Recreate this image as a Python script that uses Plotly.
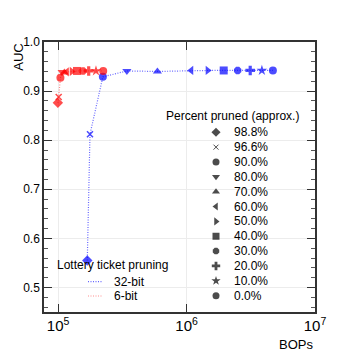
import plotly.graph_objects as go

pruned_labels = ["98.8%", "96.6%", "90.0%", "80.0%", "70.0%", "60.0%",
                 "50.0%", "40.0%", "30.0%", "20.0%", "10.0%", "0.0%"]
symbols = ["diamond", "x-thin", "circle", "triangle-down", "triangle-up",
           "triangle-left", "triangle-right", "square", "octagon", "cross",
           "star", "circle"]

bops_32 = [1.687e5, 1.77e5, 2.23e5, 3.43e5, 5.93e5, 1.087e6, 1.46e6,
           1.946e6, 2.50e6, 3.13e6, 3.86e6, 4.70e6]
auc_32 = [0.555, 0.812, 0.929, 0.941, 0.940, 0.942, 0.942, 0.942,
          0.942, 0.942, 0.942, 0.942]

bops_6 = [9.95e4, 1.01e5, 1.042e5, 1.074e5, 1.119e5, 1.168e5, 1.276e5,
          1.403e5, 1.562e5, 1.730e5, 1.971e5, 2.244e5]
auc_6 = [0.876, 0.888, 0.927, 0.939, 0.938, 0.939, 0.940, 0.941,
         0.941, 0.941, 0.941, 0.941]

series_names = ["32-bit", "6-bit"]

FONT = "Liberation Sans, Arial, Helvetica, sans-serif"
L, R, T, B = 44, 315, 42, 312
BLUE_LINE = "rgba(0,0,255,0.6)"
RED_LINE = "rgba(255,0,0,0.45)"
DASH = "1px,1.5px"

fig = go.Figure()


def sym_line(s):
    return 1.5 if s == "x-thin" else 0


# data series
for bops, auc, mc, lc in [(bops_32, auc_32, "#0000ff", BLUE_LINE),
                          (bops_6, auc_6, "#ff0000", RED_LINE)]:
    fig.add_trace(go.Scatter(x=bops, y=auc, mode="lines",
                             line=dict(color=lc, width=1.2, dash=DASH),
                             showlegend=False, hoverinfo="skip"))
    fig.add_trace(go.Scatter(
        x=bops, y=auc, mode="markers", showlegend=False,
        marker=dict(symbol=symbols, size=[8 if s != "x-thin" else 6 for s in symbols],
                    color=mc,
                    line=dict(color=mc, width=[sym_line(s) for s in symbols]))))

# custom legend (layout in pixel coordinates on a hidden overlay axis)
leg_x, leg_y0, leg_dy = 216, 132.3, 14.85
ys = [leg_y0 + i * leg_dy for i in range(len(pruned_labels))]
fig.add_trace(go.Scatter(
    x=[leg_x] * len(ys), y=ys, mode="markers", xaxis="x2", yaxis="y2",
    showlegend=False, hoverinfo="skip",
    marker=dict(symbol=symbols, size=[7 if s != "x-thin" else 5 for s in symbols],
                color="black",
                line=dict(color="black", width=[1 if s == "x-thin" else 0 for s in symbols]))))

annotations = []
for lab, y in zip(pruned_labels, ys):
    annotations.append(dict(x=232, y=y, xref="x2", yref="y2", text=lab,
                            showarrow=False, xanchor="left", yanchor="middle",
                            font=dict(size=12, family=FONT, color="black")))
annotations.append(dict(x=164, y=116, xref="x2", yref="y2",
                        text="Percent pruned (approx.)", showarrow=False,
                        xanchor="left", yanchor="middle",
                        font=dict(size=12, family=FONT, color="black")))
annotations.append(dict(x=55, y=265, xref="x2", yref="y2",
                        text="Lottery ticket pruning", showarrow=False,
                        xanchor="left", yanchor="middle",
                        font=dict(size=12, family=FONT, color="black")))
for name, y, lc in [(series_names[0], 281.7, BLUE_LINE),
                    (series_names[1], 296.0, RED_LINE)]:
    fig.add_trace(go.Scatter(x=[88, 103], y=[y, y], mode="lines",
                             xaxis="x2", yaxis="y2", showlegend=False,
                             hoverinfo="skip",
                             line=dict(color=lc, width=1.2, dash=DASH)))
    annotations.append(dict(x=112, y=y, xref="x2", yref="y2", text=name,
                            showarrow=False, xanchor="left", yanchor="middle",
                            font=dict(size=12, family=FONT, color="black")))

# axis titles
annotations.append(dict(x=-0.095, y=1.0, xref="paper", yref="paper", text="AUC",
                        textangle=-90, showarrow=False, xanchor="center",
                        yanchor="top", font=dict(size=13, family=FONT, color="black")))
annotations.append(dict(x=1.0, y=-0.085, xref="paper", yref="paper", text="BOPs",
                        showarrow=False, xanchor="right", yanchor="top",
                        font=dict(size=13, family=FONT, color="black")))

fig.update_layout(
    width=351, height=351,
    margin=dict(l=L, r=351 - R, t=T, b=351 - B, pad=0),
    paper_bgcolor="white", plot_bgcolor="white",
    font=dict(family=FONT, size=12, color="black"),
    showlegend=False,
    annotations=annotations,
    xaxis=dict(type="log", range=[4.89, 7.0], dtick=1, exponentformat="power",
               showgrid=True, gridcolor="#ececec", gridwidth=1,
               ticks="inside", ticklen=8, tickcolor="#333", mirror="allticks",
               showline=True, linecolor="#333", linewidth=1.5,
               zeroline=False, tickfont=dict(size=12, family=FONT)),
    yaxis=dict(range=[0.45, 1.0], dtick=0.1, tickformat=".1f",
               showgrid=True, gridcolor="#ececec", gridwidth=1,
               ticks="inside", ticklen=8, tickcolor="#333", mirror="allticks",
               showline=True, linecolor="#333", linewidth=1.5,
               zeroline=False, tickfont=dict(size=12, family=FONT),
               minor=dict(dtick=0.02, ticks="inside", ticklen=4,
                          tickcolor="#555", showgrid=False)),
    xaxis2=dict(overlaying="x", range=[L, R], visible=False, anchor="y2"),
    yaxis2=dict(overlaying="y", range=[B, T], visible=False, anchor="x2"),
)

fig.write_html("out.html")
